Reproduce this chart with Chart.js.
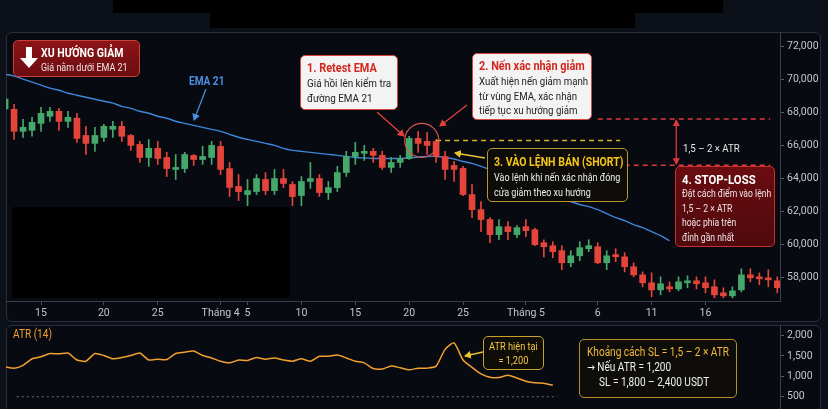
<!DOCTYPE html>
<html><head><meta charset="utf-8">
<script src="https://cdn.jsdelivr.net/npm/chart.js@4.4.1/dist/chart.umd.min.js"></script>
<style>
html,body{margin:0;padding:0;background:#0c1019;width:828px;height:409px;overflow:hidden;
 font-family:Roboto,"Liberation Sans",sans-serif;}
.panel{position:absolute;box-sizing:border-box;border:1px solid #2a2f39;border-radius:6px;background:#070a10;}
canvas{position:absolute;}
.box{position:absolute;box-sizing:border-box;border-radius:5px;}
.t{position:absolute;white-space:nowrap;transform:scaleX(0.84);transform-origin:0 0;}
.n{transform:scaleX(0.78);}
.redact{position:absolute;background:#000;}
svg{position:absolute;left:0;top:0;}
</style></head>
<body>
<div class="redact" style="left:113px;top:0;width:610px;height:13px"></div>
<div class="redact" style="left:210px;top:0;width:425px;height:28px"></div>

<div class="panel" style="left:6px;top:32px;width:815px;height:290px"></div>
<div class="panel" style="left:6px;top:325px;width:815px;height:95px"></div>

<canvas id="main" width="815" height="290" style="left:6px;top:32px;width:815px;height:290px"></canvas>
<canvas id="atr" width="815" height="84" style="left:6px;top:325px;width:815px;height:84px"></canvas>

<div class="redact" style="left:12px;top:207px;width:278px;height:91px;border-radius:3px"></div>

<svg width="828" height="409">
 <defs>
  <marker id="mr" markerWidth="8" markerHeight="8" refX="6" refY="4" orient="auto" markerUnits="userSpaceOnUse"><path d="M0,0 L7,4 L0,8 z" fill="#e2403a"/></marker>
  <marker id="my" markerWidth="8" markerHeight="8" refX="6" refY="4" orient="auto" markerUnits="userSpaceOnUse"><path d="M0,0 L7,4 L0,8 z" fill="#e8c233"/></marker>
  <marker id="mb" markerWidth="8" markerHeight="8" refX="6" refY="4" orient="auto" markerUnits="userSpaceOnUse"><path d="M0,0 L7,4 L0,8 z" fill="#4a90e2"/></marker>
 </defs>
 <line x1="377" y1="112" x2="404" y2="136" stroke="#e2403a" stroke-width="1.3" marker-end="url(#mr)"/>
 <line x1="467" y1="105" x2="440" y2="126" stroke="#e2403a" stroke-width="1.3" marker-end="url(#mr)"/>
 <line x1="485" y1="158" x2="455" y2="153" stroke="#e8c233" stroke-width="1.5" marker-end="url(#my)"/>
 <line x1="206" y1="89" x2="194" y2="120" stroke="#4a90e2" stroke-width="1.2" marker-end="url(#mb)"/>
 <line x1="483" y1="352" x2="465" y2="356" stroke="#e8c233" stroke-width="1.3" marker-end="url(#my)"/>
</svg>

<div class="box" style="left:13px;top:40px;width:127px;height:37px;background:linear-gradient(#8c1418,#6c0d11);border:1px solid #c8403a;">
 <svg width="30" height="34" style="left:3px;top:2px"><path d="M9,4 H15 V15 H21 L12,25 L3,15 H9 Z" fill="#fff"/></svg>
 <div class="t n" style="left:27px;top:3px;font-size:13.5px;font-weight:bold;color:#fff">XU HƯỚNG GIẢM</div>
 <div class="t n" style="left:27px;top:19px;font-size:11.5px;color:#f1e6e6">Giá nằm dưới EMA 21</div>
</div>

<div class="t" style="left:189px;top:74px;font-size:12px;font-weight:bold;color:#4a90e2">EMA 21</div>

<div class="box" style="left:300px;top:55px;width:98px;height:55px;background:#f3f3f3;border:1px solid #d8463f;">
 <div class="t" style="left:6px;top:4px;font-size:13px;font-weight:bold;color:#d4261f">1. Retest EMA</div>
 <div class="t" style="left:6px;top:20px;font-size:11.8px;line-height:15px;color:#222">Giá hồi lên kiểm tra<br>đường EMA 21</div>
</div>

<div class="box" style="left:472px;top:53px;width:120px;height:67px;background:#f3f3f3;border:1px solid #d8463f;">
 <div class="t" style="left:6px;top:4px;font-size:13px;font-weight:bold;color:#d4261f">2. Nến xác nhận giảm</div>
 <div class="t" style="left:6px;top:20px;font-size:11.5px;line-height:14.5px;color:#222">Xuất hiện nến giảm mạnh<br>từ vùng EMA, xác nhận<br>tiếp tục xu hướng giảm</div>
</div>

<div class="box" style="left:487px;top:148px;width:141px;height:54px;background:#0d0c09;border:1.5px solid #b8962e;">
 <div class="t n" style="left:6px;top:4px;font-size:13.5px;font-weight:bold;color:#f5c518">3. VÀO LỆNH BÁN (SHORT)</div>
 <div class="t n" style="left:6px;top:21px;font-size:11.5px;line-height:14.5px;color:#eee">Vào lệnh khi nến xác nhận đóng<br>cửa giảm theo xu hướng</div>
</div>

<div class="t" style="left:683px;top:141px;font-size:11.5px;color:#e6e6e6">1,5 – 2 × ATR</div>

<div class="box" style="left:675px;top:166px;width:100px;height:81px;background:linear-gradient(#6a0c10,#4e0a0d);border:1px solid #c8302c;">
 <div class="t" style="left:6px;top:4px;font-size:13.5px;font-weight:bold;color:#fff">4. STOP-LOSS</div>
 <div class="t n" style="left:6px;top:20px;font-size:11px;line-height:14.6px;color:#f0e4e4">Đặt cách điểm vào lệnh<br>1,5 – 2 × ATR<br>hoặc phía trên<br>đỉnh gần nhất</div>
</div>

<div class="t" style="left:13px;top:327px;font-size:12px;color:#f0a030">ATR (14)</div>

<div class="box" style="left:483px;top:336px;width:61px;height:34px;background:#0f0d08;border:1.3px solid #c9a22e;">
 <div class="t" style="left:0;width:70px;top:3px;text-align:center;font-size:11px;line-height:14px;color:#f2c744">ATR hiện tại<br>= 1,200</div>
</div>

<div class="box" style="left:579px;top:339px;width:158px;height:59px;background:#0e0d09;border:1.3px solid #b8902a;">
 <div class="t" style="left:7px;top:5px;font-size:12px;line-height:15px;color:#f0b940">Khoảng cách SL = 1,5 – 2 × ATR</div>
 <div class="t" style="left:7px;top:20px;font-size:12px;line-height:15px;color:#eee"><span style="font-family:'DejaVu Sans',sans-serif;font-size:11px">→</span> Nếu ATR = 1,200</div>
 <div class="t" style="left:19px;top:35px;font-size:12px;line-height:15px;color:#eee">SL = 1,800 – 2,400 USDT</div>
</div>

<script>
const opens  = [68200,68180,66850,66910,67330,67760,68060,67450,67640,66600,66120,66480,66970,67150,66600,66060,65270,65820,65270,64550,64600,65390,65150,65270,65940,64600,63520,63030,63210,63940,63270,64000,63640,62970,63820,64000,63150,63450,64360,65330,65520,65640,65400,64670,64970,65210,66420,66240,66240,65330,64790,64610,63030,62120,61520,60610,61090,60610,61090,60910,60120,59940,59640,58910,59330,59760,59880,58910,59400,59270,58670,58180,57700,57270,57460,57330,57700,57820,57700,57460,57090,56910,57270,58180,58060,58000,57820];
const highs  = [69000,68480,67580,67700,68300,68300,68240,68060,67940,67150,67090,67270,67450,67450,66670,66240,66360,66240,65580,65450,65580,65450,65940,66240,66240,64970,64240,63940,64240,64360,64550,64550,63820,64120,64970,64240,63820,64730,65640,66180,66000,65820,65640,65270,65400,66550,66850,66790,66360,65640,65030,64730,63640,62610,61640,61520,61400,61150,61520,61000,60300,60180,59940,59640,60180,60300,60120,59640,59760,59520,58910,58360,58300,58060,57760,58060,58120,58060,58060,57880,57400,57460,58550,58550,58300,58490,58060];
const lows   = [68000,66360,66480,66550,66850,67450,66900,67090,66180,65450,65640,66240,66480,66240,65700,64970,64730,64850,64120,63940,64360,64790,64850,64850,64240,62910,62670,62360,63030,63030,63030,63450,62360,62360,63400,62910,62730,63210,64120,64850,65090,64970,64550,64360,64670,65150,65580,65450,64970,63940,63820,62970,61640,60790,60120,60300,60300,60420,60480,59940,59270,59210,58490,58670,59030,59580,58850,58490,58970,58360,58060,57460,56850,56970,57150,57210,57400,57330,57090,56790,56790,56790,57150,57760,57580,57460,57090];
const closes = [68800,66850,67090,67390,67940,68060,67450,67700,66420,66120,66600,67150,67150,66550,66000,65270,65820,65210,64600,64670,65450,65150,65330,66000,64550,63460,63210,63270,64000,63270,64000,63700,62910,63820,64000,63150,63450,64360,65330,65580,65640,65400,64670,64970,65210,66420,66120,66000,65330,64550,64550,63030,62120,61520,60610,61090,60790,61030,60850,60000,59880,59580,58910,59330,59820,59940,58910,59330,59270,58670,58180,57700,57270,57640,57330,57760,57820,57640,57400,56970,56910,57210,58180,58000,57940,57880,57400];
const ema21  = [70300,70180,70000,69820,69640,69460,69330,69150,69030,68910,68790,68670,68550,68360,68240,68060,67940,67760,67640,67460,67330,67210,67090,66970,66850,66670,66490,66360,66240,66120,66000,65820,65700,65640,65580,65520,65460,65400,65330,65270,65240,65210,65210,65210,65210,65240,65300,65330,65330,65270,65180,65030,64910,64730,64550,64300,64060,63820,63580,63330,63150,62970,62790,62610,62430,62300,62120,61880,61640,61460,61210,61030,60790,60550,60240];
const atr14  = [1230,1200,1270,1430,1480,1560,1550,1570,1400,1370,1560,1510,1430,1460,1510,1570,1400,1420,1410,1560,1590,1620,1510,1450,1370,1330,1400,1390,1460,1420,1450,1400,1370,1430,1370,1490,1490,1520,1450,1370,1330,1190,1180,1250,1210,1160,1200,1200,1250,1660,1820,1400,1220,1060,980,970,1025,960,880,840,830,780];
const xTickIdx    = [4,11,17,24,27,33,39,45,51,58,66,72,78];
const xTickLabels = ['15','20','25','Tháng 4','5','10','15','20','25','Tháng 5','6','11','16'];
const priceTicks  = [58000,60000,62000,64000,66000,68000,70000,72000];
const atrTicks    = [500,1000,1500,2000];
const entryPrice  = 66300;
const stopUpper   = 67600;
const stopLower   = 64800;
const atrFloor    = 500;

const FONT = 'Roboto, sans-serif';
const GREEN = '#45a86a', RED = '#e5443b';
const idx = opens.map((_, i) => i);
const candleColor = c => closes[c.dataIndex] >= opens[c.dataIndex] ? GREEN : RED;
const noPad = a => { a.paddingTop = 0; a.paddingBottom = 0; };

const levelPlugin = {
  id: 'levels',
  afterDatasetsDraw(chart) {
    const {ctx, scales: {x, y}} = chart;
    ctx.save();
    ctx.lineWidth = 1.5;
    const hline = (i0, i1, v, color) => {
      ctx.strokeStyle = color; ctx.setLineDash([5, 4]);
      ctx.beginPath(); ctx.moveTo(x.getPixelForValue(i0), y.getPixelForValue(v));
      ctx.lineTo(x.getPixelForValue(i1), y.getPixelForValue(v)); ctx.stroke();
    };
    hline(48, 68.5, entryPrice, '#d9b526');
    hline(66, 85.2, stopUpper, '#e0383a');
    hline(66, 85.2, stopLower, '#e0383a');
    ctx.setLineDash([]);
    const ax = x.getPixelForValue(74.75), y1 = y.getPixelForValue(stopUpper), y2 = y.getPixelForValue(stopLower);
    ctx.strokeStyle = '#e0383a'; ctx.fillStyle = '#e0383a'; ctx.lineWidth = 1.3;
    ctx.beginPath(); ctx.moveTo(ax, y1 + 3); ctx.lineTo(ax, y2 - 3); ctx.stroke();
    ctx.beginPath(); ctx.moveTo(ax, y1); ctx.lineTo(ax - 3.5, y1 + 7); ctx.lineTo(ax + 3.5, y1 + 7); ctx.fill();
    ctx.beginPath(); ctx.moveTo(ax, y2); ctx.lineTo(ax - 3.5, y2 - 7); ctx.lineTo(ax + 3.5, y2 - 7); ctx.fill();
    ctx.strokeStyle = '#d9534f'; ctx.lineWidth = 1.2;
    ctx.beginPath(); ctx.arc(x.getPixelForValue(46.4), y.getPixelForValue(entryPrice), 17, 0, Math.PI * 2); ctx.stroke();
    ctx.restore();
  }
};

new Chart(document.getElementById('main'), {
  data: {
    datasets: [
      { type: 'bar', order: 1, grouped: false, barThickness: 6, minBarLength: 1.5, borderWidth: 0,
        backgroundColor: candleColor,
        data: idx.map(i => ({x: i, y: [Math.min(opens[i], closes[i]), Math.max(opens[i], closes[i])]})) },
      { type: 'bar', order: 2, grouped: false, barThickness: 1, borderWidth: 0,
        backgroundColor: candleColor,
        data: idx.map(i => ({x: i, y: [lows[i], highs[i]]})) },
      { type: 'line', order: 3, borderColor: '#3d86d8', borderWidth: 1.4, pointRadius: 0, tension: 0.3,
        data: ema21.map((v, i) => ({x: i, y: v})) }
    ]
  },
  options: {
    responsive: false, animation: false, events: [],
    layout: {padding: 0},
    plugins: {legend: {display: false}, tooltip: {enabled: false}},
    scales: {
      x: { type: 'linear', min: 0.1, max: 86.3, offset: false,
        afterBuildTicks: a => { a.ticks = xTickIdx.map(v => ({value: v})); },
        afterFit: a => { a.height = 21; a.paddingLeft = 0; a.paddingRight = 0; },
        grid: {drawOnChartArea: false, offset: false, tickLength: 4, color: '#4a4f5a'},
        border: {color: '#3a3f4a'},
        ticks: {color: '#c3c6cc', font: {family: FONT, size: 10.5}, padding: 2, maxRotation: 0, autoSkip: false,
          callback: (v, i) => xTickLabels[i]} },
      y: { type: 'linear', position: 'right', min: 56600, max: 72850,
        afterBuildTicks: a => { a.ticks = priceTicks.map(v => ({value: v})); },
        afterFit: a => { a.width = 41; noPad(a); },
        grid: {drawOnChartArea: false, tickLength: 4, color: '#5a5f6a'},
        border: {color: '#3a3f4a'},
        ticks: {color: '#c3c6cc', font: {family: FONT, size: 10.5}, padding: 3,
          callback: v => v.toLocaleString('en-US')} }
    }
  },
  plugins: [levelPlugin]
});

const floorPlugin = {
  id: 'floor',
  beforeDatasetsDraw(chart) {
    const {ctx, scales: {x, y}} = chart;
    ctx.save(); ctx.strokeStyle = '#6a6e78'; ctx.lineWidth = 1.2; ctx.setLineDash([2, 3]);
    ctx.beginPath(); ctx.moveTo(x.getPixelForValue(1.3), y.getPixelForValue(atrFloor));
    ctx.lineTo(x.getPixelForValue(61.5), y.getPixelForValue(atrFloor)); ctx.stroke(); ctx.restore();
  }
};

new Chart(document.getElementById('atr'), {
  type: 'line',
  data: { datasets: [{ borderColor: '#f0a030', borderWidth: 1.5, pointRadius: 0, tension: 0.2,
    data: atr14.map((v, i) => ({x: i, y: v})) }] },
  options: {
    responsive: false, animation: false, events: [],
    layout: {padding: 0},
    plugins: {legend: {display: false}, tooltip: {enabled: false}},
    scales: {
      x: {type: 'linear', display: false, min: 0.1, max: 86.3},
      y: { type: 'linear', position: 'right', min: 200, max: 2257,
        afterBuildTicks: a => { a.ticks = atrTicks.map(v => ({value: v})); },
        afterFit: a => { a.width = 41; noPad(a); },
        grid: {drawOnChartArea: false, tickLength: 4, color: '#5a5f6a'},
        border: {color: '#3a3f4a'},
        ticks: {color: '#c3c6cc', font: {family: FONT, size: 10.5}, padding: 3,
          callback: v => v.toLocaleString('en-US')} }
    }
  },
  plugins: [floorPlugin]
});
</script>
</body></html>
